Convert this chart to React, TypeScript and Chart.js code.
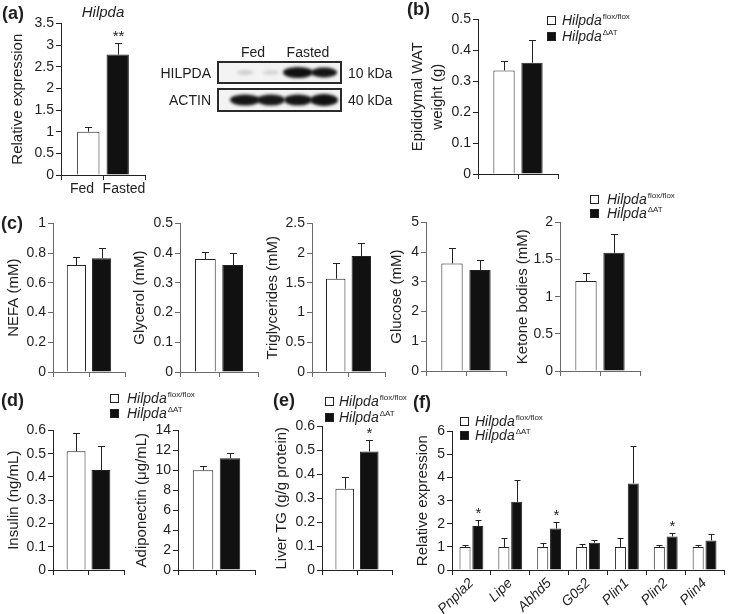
import React, { useEffect, useRef } from 'react';
import { Chart, registerables } from 'chart.js';

Chart.register(...registerables);

const FONT = "'Liberation Sans', Arial, Helvetica, sans-serif";
const INK = '#1e1e1e';

// ---------- data ----------
// (a) Hilpda expression, fed vs fasted
const aGroups = ['Fed', 'Fasted'];
const aMeans = [1.0, 2.78];
const aErrs = [0.1, 0.27];
const aSig = ['', '**'];

// genotypes for (b)-(f)
const genoSup = ['flox/flox', 'ΔAT'];

// (b)
const watMeans = [0.335, 0.36];
const watErrs = [0.03, 0.072];

// (c)
const nefaMeans = [0.72, 0.765];
const nefaErrs = [0.055, 0.07];
const glycerolMeans = [0.38, 0.36];
const glycerolErrs = [0.025, 0.04];
const tgMeans = [1.57, 1.95];
const tgErrs = [0.26, 0.22];
const glucoseMeans = [3.62, 3.4];
const glucoseErrs = [0.53, 0.32];
const ketoneMeans = [1.21, 1.59];
const ketoneErrs = [0.11, 0.26];

// (d)
const insulinMeans = [0.51, 0.43];
const insulinErrs = [0.08, 0.105];
const adipoMeans = [10.0, 11.2];
const adipoErrs = [0.45, 0.55];

// (e)
const liverMeans = [0.34, 0.495];
const liverErrs = [0.05, 0.05];
const liverSig = ['', '*'];

// (f)
const fGenes = ['Pnpla2', 'Lipe', 'Abhd5', 'G0s2', 'Plin1', 'Plin2', 'Plin4'];
const fWt = [1, 1, 1, 1, 1, 1, 1];
const fWtErr = [0.08, 0.4, 0.15, 0.12, 0.4, 0.1, 0.08];
const fKo = [1.9, 2.95, 1.8, 1.18, 3.75, 1.45, 1.28];
const fKoErr = [0.27, 0.95, 0.27, 0.14, 1.6, 0.15, 0.27];
const fSig = ['*', '', '*', '', '', '*', ''];

// ---------- plugin ----------
const errorBarPlugin = {
  id: 'errorBars',
  afterDatasetsDraw(chart: any, _args: any, opts: any) {
    const ctx = chart.ctx;
    const yScale = chart.scales.y;
    const capHalf = opts.capHalf ?? 3.5;
    chart.data.datasets.forEach((ds: any, i: number) => {
      const meta = chart.getDatasetMeta(i);
      meta.data.forEach((bar: any, j: number) => {
        const v = ds.data[j];
        const e = ds.errors ? ds.errors[j] : 0;
        if (v == null) return;
        const yTop = Math.round(yScale.getPixelForValue(v + e)) + 0.5;
        const x = Math.round(bar.x) + 0.5;
        ctx.save();
        ctx.strokeStyle = '#222';
        ctx.lineWidth = 1;
        ctx.beginPath();
        ctx.moveTo(x, bar.y);
        ctx.lineTo(x, yTop);
        ctx.moveTo(x - capHalf, yTop);
        ctx.lineTo(x + capHalf, yTop);
        ctx.stroke();
        const s = ds.sig ? ds.sig[j] : '';
        if (s) {
          ctx.fillStyle = INK;
          ctx.font = `15px ${FONT}`;
          ctx.textAlign = 'center';
          ctx.textBaseline = 'bottom';
          ctx.fillText(s, x, yTop + 1);
        }
        ctx.restore();
      });
    });
  },
};

const fmtTick = (v: any) => String(Number(Number(v).toFixed(3)));

// ---------- generic panel ----------
type Series = { values: number[]; errors: number[]; sig?: string[]; color: string };

interface PanelProps {
  titleX: number;
  title: string | string[];
  titleLH?: number;
  axisX: number;
  axisEndX: number;
  topY: number;
  bottomY: number;
  yMax: number;
  yStep: number;
  categories: string[];
  series: Series[];
  groupLabels?: string[];
  xHeight: number;
  catPct: number;
  barPct: number;
  axisColor: string;
  capHalf: number;
  rotate?: number;
}

function BarPanel(p: PanelProps) {
  const ref = useRef<HTMLCanvasElement>(null);
  const titleSize = 15;
  const lh = p.titleLH ?? 1.2;
  const canvasLeft = Math.round(p.titleX - 4 - (titleSize * lh) / 2);
  const padTop = 10;
  const padRight = 4;
  const canvasTop = p.topY - padTop;
  const yWidth = p.axisX - canvasLeft;
  const width = p.axisEndX - canvasLeft + padRight;
  const height = p.bottomY - canvasTop + p.xHeight;

  useEffect(() => {
    const tickFont = { family: FONT, size: 14 };
    const gridCommon = {
      drawOnChartArea: false,
      drawTicks: true,
      tickLength: 5,
      color: p.axisColor,
      offset: true,
    };
    const scales: any = {
      y: {
        min: 0,
        max: p.yMax,
        ticks: { stepSize: p.yStep, color: INK, font: tickFont, padding: 2, callback: fmtTick },
        grid: { ...gridCommon, offset: false },
        border: { color: p.axisColor, width: 1 },
        title: {
          display: true,
          text: p.title,
          color: INK,
          font: { family: FONT, size: titleSize, lineHeight: lh },
          padding: { top: 4, bottom: 0 },
        },
        afterFit: (s: any) => {
          s.width = yWidth;
        },
      },
    };
    if (p.groupLabels) {
      scales.x = { display: false, offset: true, grid: { offset: true } };
      const showLabels = p.groupLabels.some((l) => l !== '');
      scales.x2 = {
        type: 'category',
        axis: 'x',
        position: 'bottom',
        labels: p.groupLabels,
        offset: true,
        grid: gridCommon,
        border: { color: p.axisColor, width: 1 },
        ticks: { display: showLabels, color: INK, font: tickFont, padding: 1, autoSkip: false, maxRotation: 0 },
        afterFit: (s: any) => {
          s.height = p.xHeight;
        },
      };
    } else {
      scales.x = {
        offset: true,
        grid: gridCommon,
        border: { color: p.axisColor, width: 1 },
        ticks: {
          color: INK,
          font: { family: FONT, size: 14, style: 'italic' },
          padding: 0,
          autoSkip: false,
          minRotation: p.rotate ?? 0,
          maxRotation: p.rotate ?? 0,
        },
        afterFit: (s: any) => {
          s.height = p.xHeight;
        },
      };
    }

    const chart = new Chart(ref.current as HTMLCanvasElement, {
      type: 'bar',
      data: {
        labels: p.categories,
        datasets: p.series.map((s) => ({
          data: s.values,
          errors: s.errors,
          sig: s.sig,
          backgroundColor: s.color,
          borderColor: '#222',
          borderWidth: 1,
          categoryPercentage: p.catPct,
          barPercentage: p.barPct,
          xAxisID: 'x',
          yAxisID: 'y',
        })) as any,
      },
      options: {
        responsive: false,
        animation: false,
        events: [],
        layout: { padding: { top: padTop, right: padRight, left: 0, bottom: 0 } },
        plugins: {
          legend: { display: false },
          tooltip: { enabled: false },
          errorBars: { capHalf: p.capHalf },
        } as any,
        scales,
      },
      plugins: [errorBarPlugin],
    });
    return () => chart.destroy();
  }, []);

  return (
    <canvas
      ref={ref}
      width={width}
      height={height}
      style={{ position: 'absolute', left: canvasLeft, top: canvasTop, width, height }}
    />
  );
}

// two-genotype series from a [wt, ko] pair
function genoSeries(means: number[], errs: number[], sig?: string[]): Series[] {
  return [
    { values: [means[0]], errors: [errs[0]], sig: sig ? [sig[0]] : undefined, color: '#ffffff' },
    { values: [means[1]], errors: [errs[1]], sig: sig ? [sig[1]] : undefined, color: '#111111' },
  ];
}

// ---------- HTML bits ----------
function Txt({ x, cy, children, style, align }: any) {
  const base: any = {
    position: 'absolute',
    top: cy - 10,
    height: 20,
    lineHeight: '20px',
    whiteSpace: 'nowrap',
    color: INK,
    fontFamily: FONT,
    fontSize: 14,
  };
  if (align === 'right') base.right = 730 - x;
  else if (align === 'center') {
    base.left = x - 100;
    base.width = 200;
    base.textAlign = 'center';
  } else base.left = x;
  return <div style={{ ...base, ...style }}>{children}</div>;
}

function PanelLabel({ x, cy, text }: any) {
  return (
    <Txt x={x} cy={cy} style={{ fontWeight: 'bold', fontSize: 18 }}>
      {text}
    </Txt>
  );
}

function Legend({ x, cy1, cy2, textX }: any) {
  const rows = [
    { cy: cy1, fill: '#ffffff', sup: genoSup[0] },
    { cy: cy2, fill: '#111111', sup: genoSup[1] },
  ];
  return (
    <>
      {rows.map((r, i) => (
        <React.Fragment key={i}>
          <div
            style={{
              position: 'absolute',
              left: x,
              top: Math.round(r.cy - 4.5),
              width: 9,
              height: 9,
              boxSizing: 'border-box',
              border: '1px solid #222',
              background: r.fill,
            }}
          />
          <Txt x={textX} cy={r.cy} style={{ fontStyle: 'italic' }}>
            Hilpda
            <sup style={{ fontSize: 8, fontStyle: 'normal', verticalAlign: 'baseline', position: 'relative', top: -6, marginLeft: 1 }}>
              {r.sup}
            </sup>
          </Txt>
        </React.Fragment>
      ))}
    </>
  );
}

function Blot() {
  const ref = useRef<HTMLCanvasElement>(null);
  useEffect(() => {
    const c = ref.current as HTMLCanvasElement;
    const ctx = c.getContext('2d') as CanvasRenderingContext2D;
    const drawBox = (y: number, h: number, bands: { cx: number; rx: number; ry: number; col: string }[]) => {
      ctx.fillStyle = '#f3f3f3';
      ctx.fillRect(4, y, 123, h);
      ctx.save();
      ctx.beginPath();
      ctx.rect(4, y, 123, h);
      ctx.clip();
      ctx.filter = 'blur(1.6px)';
      bands.forEach((b) => {
        ctx.fillStyle = b.col;
        ctx.beginPath();
        ctx.ellipse(b.cx, y + h / 2, b.rx, b.ry, 0, 0, Math.PI * 2);
        ctx.fill();
      });
      ctx.restore();
      ctx.filter = 'none';
      ctx.strokeStyle = '#2a2a2a';
      ctx.lineWidth = 2;
      ctx.strokeRect(4, y, 123, h);
    };
    drawBox(4, 21, [
      { cx: 31, rx: 8, ry: 2.5, col: '#cfcfcf' },
      { cx: 57, rx: 8, ry: 2.5, col: '#d6d6d6' },
      { cx: 84, rx: 15, ry: 5.5, col: '#111' },
      { cx: 110, rx: 13, ry: 5, col: '#151515' },
    ]);
    drawBox(31, 22, [
      { cx: 31, rx: 15, ry: 5.5, col: '#151515' },
      { cx: 57, rx: 14, ry: 5.5, col: '#181818' },
      { cx: 84, rx: 14, ry: 5.5, col: '#151515' },
      { cx: 110, rx: 14, ry: 6, col: '#121212' },
    ]);
  }, []);
  return (
    <>
      <canvas ref={ref} width={132} height={58} style={{ position: 'absolute', left: 214, top: 58, width: 132, height: 58 }} />
      <Txt x={253} cy={52} align="center">Fed</Txt>
      <Txt x={308} cy={52} align="center">Fasted</Txt>
      <Txt x={211} cy={73} align="right">HILPDA</Txt>
      <Txt x={211} cy={100} align="right">ACTIN</Txt>
      <Txt x={348} cy={73}>10 kDa</Txt>
      <Txt x={348} cy={100}>40 kDa</Txt>
    </>
  );
}

const common = { catPct: 0.7, barPct: 0.76, capHalf: 3.5, categories: [''] };
const cAxis = '#6a6a6a';
const dAxis = '#222';

export default function App() {
  const aSeries: Series[] = aGroups.map((_, i) => ({
    values: [aMeans[i]],
    errors: [aErrs[i]],
    sig: [aSig[i]],
    color: i === 0 ? '#ffffff' : '#111111',
  }));
  const fSeries: Series[] = [
    { values: fWt, errors: fWtErr, color: '#ffffff' },
    { values: fKo, errors: fKoErr, sig: fSig, color: '#111111' },
  ];
  return (
    <div style={{ position: 'absolute', left: 0, top: 0, width: 730, height: 614, overflow: 'hidden', background: '#fff' }}>
      {/* (a) */}
      <BarPanel {...common} titleX={18} title="Relative expression" axisX={61} axisEndX={145} topY={23} bottomY={175}
        yMax={3.5} yStep={0.5} series={aSeries} groupLabels={aGroups} xHeight={26} axisColor={dAxis} />
      <PanelLabel x={2} cy={13} text="(a)" />
      <Txt x={103} cy={12} align="center" style={{ fontStyle: 'italic', fontSize: 15 }}>Hilpda</Txt>
      <Blot />

      {/* (b) */}
      <BarPanel {...common} titleX={418} title={['Epididymal WAT', 'weight (g)']} titleLH={1.33} axisX={478} axisEndX={558}
        topY={19} bottomY={174} yMax={0.5} yStep={0.1} series={genoSeries(watMeans, watErrs)} groupLabels={['', '']}
        xHeight={12} axisColor={dAxis} />
      <PanelLabel x={407} cy={9} text="(b)" />
      <Legend x={547} cy1={20} cy2={36} textX={562} />

      {/* (c) */}
      <BarPanel {...common} titleX={14} title="NEFA (mM)" axisX={53} axisEndX={125} topY={223} bottomY={372}
        yMax={1} yStep={0.2} series={genoSeries(nefaMeans, nefaErrs)} groupLabels={['', '']} xHeight={12} axisColor={cAxis} />
      <BarPanel {...common} titleX={140} title="Glycerol (mM)" axisX={180} axisEndX={258} topY={223} bottomY={372}
        yMax={0.5} yStep={0.1} series={genoSeries(glycerolMeans, glycerolErrs)} groupLabels={['', '']} xHeight={12} axisColor={cAxis} />
      <BarPanel {...common} titleX={273} title="Triglycerides (mM)" axisX={312} axisEndX={385} topY={223} bottomY={372}
        yMax={2.5} yStep={0.5} series={genoSeries(tgMeans, tgErrs)} groupLabels={['', '']} xHeight={12} axisColor={cAxis} />
      <BarPanel {...common} titleX={397} title="Glucose (mM)" axisX={426} axisEndX={506} topY={222} bottomY={371}
        yMax={5} yStep={1} series={genoSeries(glucoseMeans, glucoseErrs)} groupLabels={['', '']} xHeight={12} axisColor={cAxis} />
      <BarPanel {...common} titleX={523} title="Ketone bodies (mM)" axisX={560} axisEndX={640} topY={222} bottomY={371}
        yMax={2} yStep={0.5} series={genoSeries(ketoneMeans, ketoneErrs)} groupLabels={['', '']} xHeight={12} axisColor={cAxis} />
      <PanelLabel x={1} cy={223} text="(c)" />
      <Legend x={590} cy1={199} cy2={213} textX={607} />

      {/* (d) */}
      <BarPanel {...common} titleX={14} title="Insulin (ng/mL)" axisX={53} axisEndX={124} topY={430} bottomY={570}
        yMax={0.6} yStep={0.1} series={genoSeries(insulinMeans, insulinErrs)} groupLabels={['', '']} xHeight={12} axisColor={dAxis} />
      <BarPanel {...common} titleX={142} title="Adiponectin (μg/mL)" axisX={178} axisEndX={255} topY={430} bottomY={570}
        yMax={14} yStep={2} series={genoSeries(adipoMeans, adipoErrs)} groupLabels={['', '']} xHeight={12} axisColor={dAxis} />
      <PanelLabel x={1} cy={400} text="(d)" />
      <Legend x={110} cy1={398} cy2={413} textX={127} />

      {/* (e) */}
      <BarPanel {...common} titleX={282} title="Liver TG (g/g protein)" axisX={322} axisEndX={392} topY={426} bottomY={570}
        yMax={0.6} yStep={0.1} series={genoSeries(liverMeans, liverErrs, liverSig)} groupLabels={['', '']} xHeight={12} axisColor={dAxis} />
      <PanelLabel x={273} cy={400} text="(e)" />
      <Legend x={325} cy1={401} cy2={417} textX={339} />

      {/* (f) */}
      <BarPanel titleX={423} title="Relative expression" axisX={452} axisEndX={724} topY={431} bottomY={570}
        yMax={6} yStep={1} categories={fGenes} series={fSeries} xHeight={50} axisColor={dAxis}
        catPct={0.66} barPct={0.86} capHalf={3} rotate={45} />
      <PanelLabel x={413} cy={402} text="(f)" />
      <Legend x={460} cy1={421} cy2={435} textX={475} />
    </div>
  );
}
